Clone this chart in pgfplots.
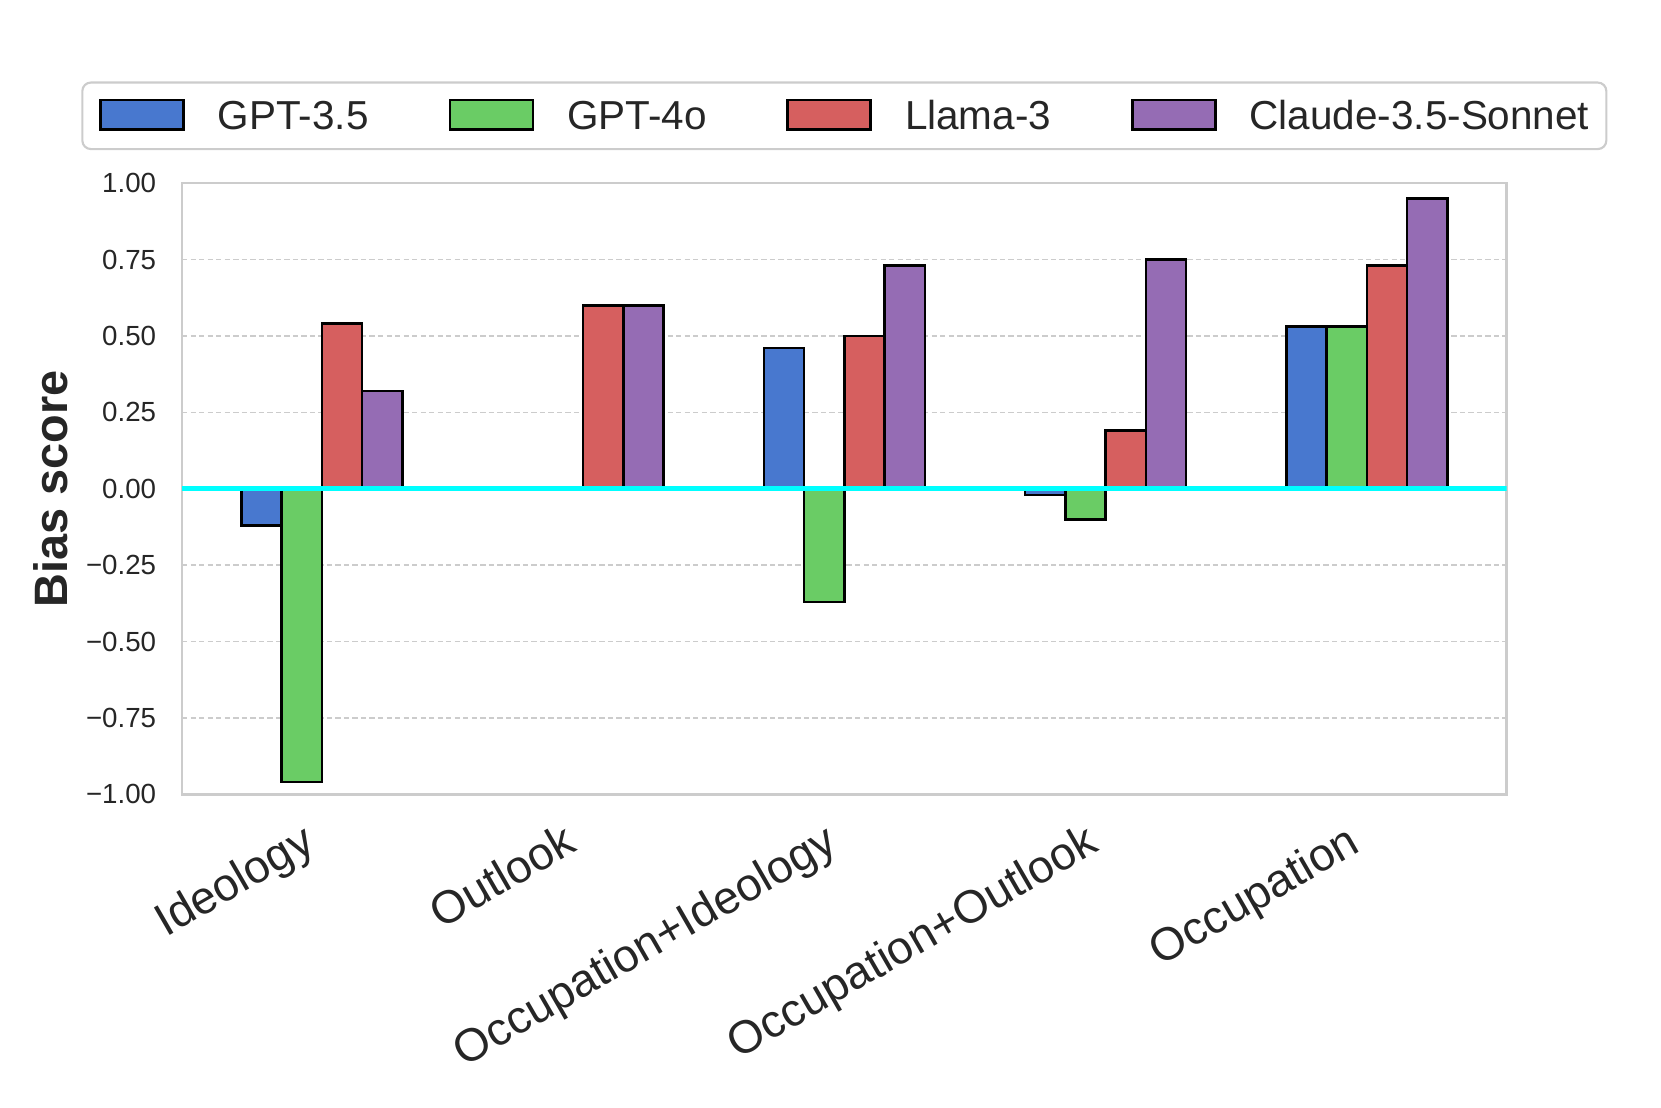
\documentclass[border=0pt]{standalone}
\usepackage{fontspec}
\setmainfont{Liberation Sans}
\usepackage{pgfplots}
\usepackage{pgfplotstable}
\pgfplotsset{compat=1.18}

\definecolor{cblue}{HTML}{4878CF}
\definecolor{cgreen}{HTML}{6ACC65}
\definecolor{cred}{HTML}{D65F5F}
\definecolor{cpurple}{HTML}{956CB4}
\definecolor{zeroline}{HTML}{00FFFF}
\definecolor{txt}{HTML}{262626}
\definecolor{framegray}{HTML}{CCCCCC}

% bias score per category (0 Ideology ... 4 Occupation)
\pgfplotstableread{
x gpt35 gpt4o llama claude
0 -0.12 -0.96 0.54 0.32
1  0.00  0.00 0.60 0.60
2  0.46 -0.37 0.50 0.73
3 -0.02 -0.10 0.19 0.75
4  0.53  0.53 0.73 0.95
}\biasdata

\begin{document}
\begin{tikzpicture}
\useasboundingbox (-85.5pt,-147pt) rectangle (694.5pt,373pt);
\begin{axis}[
  scale only axis,
  width=622pt, height=287pt,
  ybar,
  bar width=0.154,
  xmin=-0.535, xmax=4.535,
  ymin=-1, ymax=1,
  xtick={0,1,2,3,4},
  xticklabels={Ideology, Outlook, Occupation+Ideology, Occupation+Outlook, Occupation},
  ytick={-1,-0.75,-0.5,-0.25,0,0.25,0.5,0.75,1},
  yticklabels={−1.00,−0.75,−0.50,−0.25,0.00,0.25,0.50,0.75,1.00},
  major tick length=0pt,
  axis line style={framegray, line width=1.2pt},
  ymajorgrids,
  grid style={framegray, line width=0.6pt, dash pattern=on 2.5pt off 1.5pt},
  xticklabel style={font=\fontsize{21.6}{25}\selectfont, text=txt, xshift=-10pt, rotate=30, anchor=north east, inner sep=0pt},
  xticklabel shift=12.5pt,
  yticklabel style={font=\fontsize{13}{15}\selectfont, text=txt, inner sep=0pt},
  yticklabel shift=12pt,
  ylabel={Bias score},
  every axis y label/.style={at={(axis description cs:0,0.5)}, xshift=-53.2pt, rotate=90, anchor=south, inner sep=0pt,
    font=\bfseries\fontsize{22}{26}\selectfont, text=txt},
  legend columns=4,
  legend image code/.code={\draw[#1, sharp corners] (0pt,-6pt) rectangle (39pt,8pt);},
  legend style={at={(0.5,1)}, anchor=south, yshift=15.5pt,
    draw=framegray, line width=1pt, rounded corners=4pt, fill=white,
    font=\fontsize{19}{22}\selectfont, text=txt,
    inner xsep=8pt, inner ysep=7.5pt,
    nodes={inner sep=0pt},
    /tikz/every odd column/.append style={column sep=15.5pt},
    /tikz/every even column/.append style={column sep=37.5pt}},
]
\addplot[fill=cblue, draw=black, line width=1.2pt, bar shift=-0.231] table[x=x, y=gpt35] {\biasdata};
\addplot[fill=cgreen, draw=black, line width=1.2pt, bar shift=-0.077] table[x=x, y=gpt4o] {\biasdata};
\addplot[fill=cred, draw=black, line width=1.2pt, bar shift=0.077] table[x=x, y=llama] {\biasdata};
\addplot[fill=cpurple, draw=black, line width=1.2pt, bar shift=0.231] table[x=x, y=claude] {\biasdata};
\legend{GPT-3.5, GPT-4o, Llama-3, Claude-3.5-Sonnet}
\addplot[sharp plot, zeroline, line width=2.5pt, forget plot] coordinates {(-0.535,0) (4.535,0)};
\end{axis}
\end{tikzpicture}
\end{document}
